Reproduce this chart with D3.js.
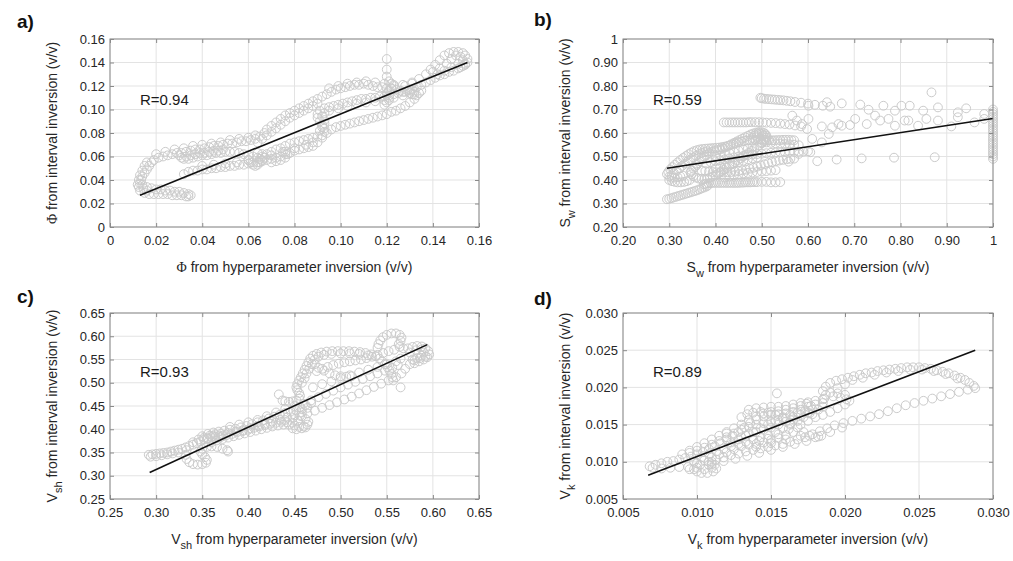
<!DOCTYPE html>
<html>
<head>
<meta charset="utf-8">
<script src="https://cdn.jsdelivr.net/npm/d3@7"></script>
<style>
  body { margin: 0; background: #fff; }
  text { font-family: "Liberation Sans", Arial, sans-serif; }
</style>
</head>
<body>
<div id="app"></div>
<script>
// ---- data: [hyperparameter inversion, interval inversion] ----

// a) porosity
const phiPoints = [
  // left hook and upper chain
  [0.0125,0.034],[0.013,0.037],[0.0135,0.040],[0.014,0.043],[0.015,0.046],[0.016,0.049],[0.017,0.052],[0.018,0.055],
  [0.019,0.057],[0.021,0.059],[0.023,0.060],[0.025,0.061],[0.027,0.062],[0.029,0.063],[0.031,0.063],[0.033,0.064],
  [0.035,0.065],[0.037,0.066],[0.039,0.066],[0.041,0.067],[0.043,0.068],[0.045,0.069],[0.047,0.069],[0.049,0.070],
  [0.051,0.071],[0.053,0.071],[0.055,0.072],[0.057,0.073],[0.059,0.073],[0.061,0.074],[0.063,0.075],[0.065,0.077],
  [0.067,0.080],[0.068,0.083],[0.070,0.086],[0.072,0.089],[0.074,0.092],[0.076,0.095],[0.078,0.097],[0.080,0.099],
  [0.082,0.101],[0.084,0.103],[0.086,0.105],[0.088,0.107],[0.090,0.109],[0.092,0.111],[0.094,0.113],[0.096,0.115],
  [0.098,0.117],[0.100,0.118],[0.102,0.119],[0.104,0.120],[0.106,0.121],[0.108,0.121],[0.110,0.122],[0.112,0.121],
  [0.114,0.120],[0.116,0.119],[0.118,0.119],[0.120,0.118],[0.122,0.118],[0.124,0.117],[0.126,0.116],[0.128,0.115],
  [0.130,0.114],[0.132,0.113],[0.134,0.114],[0.135,0.116],
  [0.020,0.062],[0.024,0.064],[0.028,0.066],[0.032,0.067],[0.036,0.069],[0.040,0.070],[0.044,0.071],[0.048,0.072],
  [0.052,0.074],[0.056,0.075],[0.060,0.076],[0.063,0.078],
  [0.012,0.036],[0.0125,0.040],[0.013,0.044],[0.014,0.048],[0.015,0.052],[0.016,0.055],[0.0145,0.033],[0.016,0.031],
  // bottom sausage
  [0.013,0.031],[0.015,0.029],[0.017,0.028],[0.019,0.028],[0.021,0.028],[0.023,0.028],[0.025,0.028],[0.027,0.027],
  [0.029,0.027],[0.031,0.027],[0.033,0.026],[0.034,0.026],[0.035,0.027],[0.034,0.028],[0.032,0.029],[0.030,0.030],
  [0.028,0.030],[0.026,0.031],[0.024,0.031],[0.022,0.032],[0.020,0.032],[0.018,0.033],[0.016,0.034],[0.014,0.036],
  // middle chain
  [0.031,0.059],[0.032,0.058],[0.034,0.058],[0.036,0.059],[0.038,0.060],[0.040,0.061],[0.042,0.061],[0.044,0.062],
  [0.046,0.063],[0.048,0.063],[0.050,0.064],[0.052,0.064],[0.054,0.064],[0.056,0.063],[0.058,0.062],[0.060,0.061],
  [0.062,0.060],[0.064,0.059],[0.066,0.060],[0.068,0.062],[0.070,0.064],[0.072,0.066],[0.074,0.067],[0.076,0.069],
  [0.078,0.071],[0.080,0.072],[0.082,0.073],[0.084,0.074],[0.086,0.075],[0.088,0.076],[0.090,0.077],[0.092,0.078],
  [0.093,0.081],[0.093,0.084],[0.092,0.087],[0.091,0.090],[0.090,0.093],[0.090,0.096],[0.091,0.099],[0.093,0.101],
  [0.095,0.102],[0.097,0.103],[0.099,0.104],[0.101,0.105],[0.103,0.106],[0.105,0.107],[0.107,0.108],[0.109,0.109],
  [0.111,0.109],[0.113,0.110],[0.115,0.110],[0.117,0.111],[0.119,0.111],[0.121,0.112],[0.123,0.113],[0.125,0.114],
  [0.127,0.115],[0.129,0.116],[0.131,0.117],[0.133,0.119],[0.135,0.121],[0.137,0.123],[0.139,0.125],[0.141,0.127],
  [0.143,0.129],[0.145,0.130],[0.147,0.132],[0.149,0.133],[0.151,0.135],[0.153,0.137],[0.154,0.139],
  [0.030,0.061],[0.033,0.060],[0.035,0.061],[0.037,0.062],[0.039,0.063],[0.041,0.063],[0.043,0.064],[0.045,0.065],
  [0.047,0.065],[0.049,0.066],
  [0.064,0.072],[0.066,0.075],[0.068,0.078],[0.070,0.081],[0.072,0.084],[0.074,0.087],[0.076,0.090],[0.078,0.093],
  [0.080,0.095],[0.082,0.097],[0.084,0.099],[0.086,0.101],[0.088,0.103],[0.090,0.105],
  [0.091,0.082],[0.092,0.085],[0.093,0.088],[0.093,0.091],[0.092,0.094],[0.093,0.097],
  // lower chain
  [0.032,0.045],[0.034,0.047],[0.036,0.048],[0.038,0.048],[0.040,0.049],[0.042,0.049],[0.044,0.050],[0.046,0.050],
  [0.048,0.051],[0.050,0.051],[0.052,0.052],[0.054,0.052],[0.056,0.053],[0.058,0.053],[0.060,0.054],[0.062,0.055],
  [0.064,0.055],[0.066,0.056],[0.068,0.057],[0.070,0.058],[0.072,0.059],[0.074,0.060],[0.076,0.062],[0.078,0.063],
  [0.080,0.065],[0.082,0.066],[0.084,0.067],[0.086,0.068],[0.088,0.069],[0.090,0.072],[0.092,0.076],[0.094,0.080],
  [0.096,0.083],[0.098,0.085],[0.100,0.086],[0.102,0.087],[0.104,0.088],[0.106,0.089],[0.108,0.090],[0.110,0.091],
  [0.112,0.092],[0.114,0.093],[0.116,0.094],[0.118,0.095],[0.120,0.096],[0.122,0.098],[0.124,0.099],[0.126,0.101],
  [0.128,0.103],[0.130,0.106],[0.132,0.109],[0.133,0.112],[0.132,0.115],[0.130,0.117],
  [0.040,0.052],[0.045,0.053],[0.050,0.054],[0.055,0.055],[0.060,0.057],[0.065,0.058],[0.070,0.061],[0.075,0.064],
  [0.080,0.067],[0.085,0.070],[0.088,0.072],
  [0.095,0.099],[0.099,0.101],[0.103,0.103],[0.107,0.105],[0.111,0.106],[0.115,0.107],[0.119,0.108],[0.123,0.110],
  [0.127,0.112],[0.131,0.113],
  [0.095,0.118],[0.099,0.120],[0.103,0.122],[0.107,0.123],[0.111,0.124],[0.115,0.123],[0.119,0.122],[0.123,0.121],
  [0.127,0.121],[0.131,0.122],
  // small clusters
  [0.119,0.104],[0.120,0.106],[0.121,0.108],[0.121,0.110],[0.120,0.112],[0.120,0.114],[0.121,0.116],[0.122,0.118],
  [0.123,0.120],[0.122,0.122],[0.121,0.124],[0.120,0.128],[0.120,0.134],[0.120,0.143],
  [0.060,0.057],[0.061,0.055],[0.062,0.053],[0.063,0.052],[0.064,0.053],[0.065,0.055],[0.066,0.057],[0.067,0.059],
  [0.066,0.062],[0.064,0.063],[0.070,0.055],[0.072,0.056],[0.074,0.057],[0.076,0.059],[0.077,0.062],[0.076,0.064],
  // top right loop
  [0.128,0.120],[0.131,0.123],[0.134,0.126],[0.137,0.130],[0.139,0.134],[0.141,0.138],[0.143,0.142],[0.145,0.146],
  [0.147,0.148],[0.149,0.149],[0.151,0.149],[0.153,0.148],[0.154,0.146],[0.155,0.143],[0.155,0.140],[0.154,0.138],
  [0.152,0.136],
  [0.140,0.132],[0.143,0.135],[0.146,0.139],[0.148,0.143],[0.150,0.146],[0.152,0.145],[0.153,0.142],[0.151,0.139],
  [0.148,0.136],[0.145,0.133],[0.142,0.130]
];
const phiFit = [[0.013, 0.027], [0.155, 0.140]];
const phiTicks = [0, 0.02, 0.04, 0.06, 0.08, 0.10, 0.12, 0.14, 0.16];
const phiTickLabels = ["0", "0.02", "0.04", "0.06", "0.08", "0.10", "0.12", "0.14", "0.16"];

// b) water saturation
const swPoints = [
  // bottom-left sausage
  [0.295,0.318],[0.300,0.320],[0.305,0.323],[0.310,0.326],[0.315,0.329],[0.320,0.332],[0.325,0.335],[0.330,0.338],
  [0.335,0.341],[0.340,0.344],[0.345,0.347],[0.350,0.350],[0.355,0.353],[0.360,0.356],[0.365,0.360],[0.370,0.364],
  [0.375,0.368],[0.380,0.372],[0.383,0.376],
  // lower band
  [0.375,0.382],[0.380,0.384],[0.385,0.386],[0.390,0.387],[0.395,0.388],[0.400,0.388],[0.405,0.388],[0.410,0.388],
  [0.415,0.388],[0.420,0.388],[0.425,0.388],[0.430,0.388],[0.435,0.388],[0.440,0.388],[0.445,0.388],[0.450,0.388],
  [0.455,0.389],[0.460,0.389],[0.465,0.390],[0.470,0.390],[0.475,0.390],[0.480,0.391],[0.485,0.391],[0.490,0.391],
  [0.500,0.392],[0.510,0.392],[0.520,0.390],[0.530,0.390],[0.540,0.391],
  // S loop
  [0.295,0.425],[0.298,0.435],[0.302,0.445],[0.307,0.455],[0.312,0.465],[0.318,0.475],[0.324,0.485],[0.330,0.494],
  [0.336,0.502],[0.342,0.510],[0.348,0.517],[0.354,0.523],[0.360,0.527],[0.366,0.530],[0.372,0.532],[0.378,0.533],
  [0.384,0.534],[0.390,0.535],[0.396,0.536],[0.402,0.537],[0.408,0.538],[0.414,0.540],[0.420,0.542],[0.426,0.545],
  [0.432,0.548],[0.438,0.552],[0.444,0.556],[0.450,0.560],[0.456,0.563],[0.462,0.566],[0.468,0.568],[0.474,0.569],
  [0.480,0.570],[0.486,0.571],[0.492,0.572],[0.498,0.572],[0.504,0.571],[0.510,0.570],[0.516,0.569],[0.522,0.569],
  [0.528,0.569],[0.534,0.570],[0.540,0.570],[0.546,0.571],[0.552,0.571],[0.558,0.571],[0.564,0.570],[0.570,0.569],
  [0.300,0.415],[0.306,0.410],[0.312,0.410],[0.318,0.412],[0.324,0.415],[0.330,0.418],
  [0.305,0.420],[0.310,0.430],[0.316,0.440],[0.322,0.450],[0.328,0.460],[0.334,0.470],[0.340,0.480],[0.346,0.488],
  [0.352,0.496],[0.358,0.503],[0.364,0.510],[0.370,0.515],[0.376,0.519],[0.382,0.522],
  [0.300,0.400],[0.306,0.395],[0.312,0.392],[0.318,0.390],[0.325,0.390],[0.332,0.392],[0.338,0.395],[0.344,0.400],
  // dark loop
  [0.360,0.470],[0.365,0.480],[0.370,0.490],[0.375,0.500],[0.380,0.508],[0.386,0.515],[0.392,0.520],[0.398,0.524],
  [0.404,0.527],[0.410,0.530],[0.416,0.534],[0.422,0.540],[0.428,0.546],[0.434,0.552],[0.440,0.558],[0.446,0.564],
  [0.452,0.570],[0.458,0.576],[0.464,0.582],[0.470,0.588],[0.476,0.594],[0.482,0.598],[0.488,0.602],[0.494,0.604],
  [0.500,0.603],[0.505,0.600],[0.508,0.595],[0.510,0.588],[0.510,0.580],[0.508,0.572],[0.505,0.564],[0.500,0.556],
  [0.495,0.548],[0.490,0.540],[0.484,0.532],[0.478,0.524],[0.472,0.516],[0.466,0.508],[0.460,0.500],[0.454,0.492],
  [0.448,0.484],[0.442,0.476],[0.436,0.468],[0.430,0.460],[0.424,0.452],[0.418,0.444],[0.412,0.436],[0.406,0.428],
  [0.400,0.421],[0.394,0.415],[0.388,0.410],[0.382,0.406],[0.376,0.404],[0.370,0.404],[0.364,0.406],[0.358,0.410],
  [0.352,0.416],[0.348,0.424],[0.346,0.432],[0.348,0.440],[0.352,0.448],[0.356,0.456],[0.360,0.464],
  [0.485,0.590],[0.490,0.595],[0.495,0.598],[0.500,0.596],[0.503,0.590],[0.480,0.580],[0.490,0.582],[0.500,0.585],
  // middle bands
  [0.380,0.470],[0.390,0.475],[0.400,0.480],[0.410,0.484],[0.420,0.488],[0.430,0.492],[0.440,0.496],[0.450,0.500],
  [0.460,0.503],[0.470,0.506],[0.480,0.508],[0.490,0.510],[0.500,0.512],[0.510,0.514],[0.520,0.516],[0.530,0.517],
  [0.540,0.518],[0.550,0.519],[0.560,0.520],[0.570,0.520],[0.580,0.521],[0.590,0.521],[0.600,0.522],
  [0.370,0.440],[0.378,0.438],[0.386,0.436],[0.394,0.434],[0.402,0.433],[0.410,0.432],[0.418,0.432],[0.426,0.433],
  [0.434,0.434],[0.442,0.436],[0.450,0.438],[0.458,0.441],[0.466,0.444],[0.474,0.448],[0.482,0.452],[0.490,0.457],
  [0.498,0.462],[0.506,0.467],[0.514,0.472],[0.522,0.476],[0.530,0.480],[0.538,0.483],[0.546,0.486],[0.554,0.488],
  [0.562,0.490],[0.570,0.491],
  [0.400,0.450],[0.410,0.455],[0.420,0.460],[0.430,0.465],[0.440,0.470],[0.450,0.476],[0.460,0.482],[0.470,0.488],
  [0.480,0.492],[0.490,0.496],[0.400,0.500],[0.410,0.505],[0.420,0.510],[0.430,0.515],[0.440,0.520],[0.450,0.525],
  [0.460,0.530],[0.470,0.535],[0.480,0.540],[0.420,0.410],[0.430,0.415],[0.440,0.420],[0.450,0.425],[0.460,0.428],
  [0.470,0.430],[0.480,0.432],[0.490,0.434],[0.500,0.436],[0.510,0.438],[0.520,0.440],[0.530,0.442],
  [0.500,0.560],[0.510,0.560],[0.520,0.558],[0.530,0.556],[0.540,0.555],[0.550,0.553],[0.560,0.552],[0.570,0.550],
  [0.580,0.548],
  // band near 0.65
  [0.418,0.645],[0.424,0.645],[0.430,0.645],[0.436,0.645],[0.442,0.645],[0.448,0.645],[0.454,0.645],[0.460,0.645],
  [0.466,0.645],[0.472,0.646],[0.478,0.646],[0.486,0.646],[0.494,0.646],[0.502,0.645],[0.510,0.644],[0.520,0.643],
  [0.530,0.642],[0.540,0.640],[0.550,0.638],[0.560,0.636],[0.572,0.632],[0.585,0.628],
  // band near 0.75
  [0.497,0.750],[0.500,0.748],[0.505,0.746],[0.510,0.745],[0.516,0.744],[0.522,0.743],[0.528,0.742],[0.534,0.741],
  [0.540,0.740],[0.547,0.739],[0.554,0.737],[0.562,0.735],[0.572,0.732],[0.585,0.729],[0.600,0.725],[0.615,0.720],
  [0.632,0.716],[0.648,0.712],
  // scattered points
  [0.601,0.716],[0.641,0.731],[0.673,0.726],[0.713,0.721],[0.731,0.699],[0.763,0.716],[0.788,0.695],[0.802,0.716],
  [0.820,0.716],[0.849,0.695],[0.867,0.773],[0.881,0.709],[0.924,0.688],[0.942,0.705],[0.981,0.681],
  [0.601,0.660],[0.630,0.628],[0.652,0.624],[0.666,0.638],[0.691,0.634],[0.702,0.660],[0.727,0.638],[0.745,0.674],
  [0.756,0.653],[0.774,0.660],[0.788,0.631],[0.809,0.653],[0.817,0.653],[0.838,0.631],[0.856,0.660],[0.881,0.653],
  [0.910,0.628],[0.924,0.667],[0.960,0.645],[0.981,0.660],
  [0.587,0.638],[0.576,0.653],[0.598,0.617],[0.609,0.575],[0.645,0.596],[0.630,0.560],[0.673,0.631],[0.566,0.674],
  [0.605,0.518],[0.662,0.487],[0.716,0.492],[0.786,0.495],[0.874,0.497],[0.580,0.511],[0.558,0.478],[0.620,0.480],
  // column at 1
  [1,0.490],[1,0.500],[1,0.510],[1,0.520],[1,0.530],[1,0.540],[1,0.550],[1,0.560],[1,0.570],[1,0.580],
  [1,0.590],[1,0.600],[1,0.610],[1,0.620],[1,0.630],[1,0.640],[1,0.650],[1,0.660],[1,0.670],[1,0.680],
  [1,0.690],[1,0.700]
];
const swFit = [[0.295, 0.450], [1.0, 0.662]];
const swTicks = [0.2, 0.3, 0.4, 0.5, 0.6, 0.7, 0.8, 0.9, 1];
const swTickLabels = ["0.20", "0.30", "0.40", "0.50", "0.60", "0.70", "0.80", "0.90", "1"];

// c) shale volume
const vshPoints = [
  // left tail
  [0.292,0.345],[0.296,0.346],[0.300,0.347],[0.304,0.348],[0.308,0.349],[0.312,0.350],[0.316,0.352],[0.320,0.354],
  [0.324,0.356],[0.328,0.358],[0.332,0.361],[0.336,0.364],[0.340,0.367],[0.344,0.370],[0.348,0.374],[0.352,0.378],
  [0.356,0.381],[0.360,0.383],[0.364,0.384],[0.368,0.385],[0.372,0.386],
  [0.294,0.341],[0.300,0.342],[0.306,0.344],[0.312,0.346],[0.318,0.348],[0.324,0.350],
  // small loop
  [0.333,0.355],[0.332,0.345],[0.333,0.336],[0.336,0.329],[0.340,0.325],[0.345,0.324],[0.350,0.325],[0.354,0.328],
  [0.355,0.334],[0.353,0.340],[0.350,0.346],[0.348,0.352],[0.350,0.358],[0.355,0.362],[0.360,0.363],[0.366,0.362],
  [0.372,0.358],[0.377,0.355],[0.378,0.352],
  // lower middle bands
  [0.350,0.385],[0.356,0.390],[0.362,0.393],[0.368,0.395],[0.374,0.397],[0.380,0.399],[0.386,0.401],[0.392,0.404],
  [0.398,0.407],[0.404,0.411],[0.410,0.415],[0.416,0.419],[0.422,0.423],[0.428,0.427],[0.434,0.431],[0.440,0.435],
  [0.446,0.438],[0.452,0.441],[0.458,0.443],[0.464,0.446],
  [0.360,0.372],[0.366,0.376],[0.372,0.379],[0.378,0.382],[0.384,0.385],[0.390,0.388],[0.396,0.391],[0.402,0.394],
  [0.408,0.397],[0.414,0.400],[0.420,0.403],[0.426,0.406],[0.432,0.408],[0.438,0.410],[0.444,0.410],[0.450,0.408],
  [0.455,0.405],[0.460,0.406],[0.464,0.410],[0.465,0.416],[0.462,0.422],[0.458,0.428],
  [0.355,0.380],[0.362,0.386],[0.370,0.390],[0.378,0.392],[0.386,0.395],[0.394,0.398],[0.402,0.402],[0.410,0.407],
  [0.418,0.412],[0.426,0.416],[0.434,0.420],[0.442,0.425],[0.450,0.430],
  [0.380,0.405],[0.390,0.410],[0.400,0.415],[0.410,0.420],[0.420,0.428],[0.430,0.436],[0.440,0.444],[0.450,0.450],
  [0.448,0.402],[0.452,0.400],[0.458,0.402],[0.462,0.404],
  [0.340,0.372],[0.346,0.378],[0.352,0.382],[0.358,0.386],[0.364,0.389],[0.370,0.383],[0.376,0.387],[0.382,0.390],
  [0.388,0.394],[0.394,0.396],[0.400,0.399],[0.406,0.403],[0.412,0.406],[0.418,0.409],[0.424,0.412],[0.430,0.414],
  [0.436,0.416],[0.442,0.415],[0.448,0.414],[0.454,0.418],[0.458,0.436],[0.456,0.448],[0.462,0.452],[0.468,0.456],
  // thin lower-right band
  [0.440,0.420],[0.448,0.424],[0.456,0.429],[0.464,0.434],[0.472,0.440],[0.480,0.446],[0.488,0.452],[0.496,0.458],
  [0.504,0.464],[0.512,0.470],[0.520,0.477],[0.528,0.484],[0.536,0.491],[0.544,0.498],[0.552,0.505],[0.560,0.512],
  [0.566,0.520],[0.570,0.530],[0.575,0.540],[0.580,0.548],[0.586,0.553],[0.592,0.556],
  // middle band
  [0.460,0.455],[0.468,0.462],[0.476,0.469],[0.484,0.476],[0.492,0.483],[0.500,0.490],[0.508,0.496],[0.516,0.502],
  [0.524,0.508],[0.532,0.514],[0.540,0.520],[0.548,0.526],[0.556,0.532],[0.562,0.538],
  [0.470,0.490],[0.480,0.497],[0.490,0.503],[0.500,0.510],[0.510,0.516],[0.520,0.522],[0.530,0.528],[0.540,0.534],
  [0.550,0.540],[0.560,0.546],[0.565,0.552],
  // upper arch
  [0.433,0.475],[0.437,0.462],[0.440,0.460],[0.444,0.459],[0.448,0.460],[0.452,0.462],[0.455,0.466],[0.456,0.472],
  [0.455,0.478],[0.453,0.484],[0.452,0.490],[0.453,0.497],[0.455,0.505],[0.457,0.512],[0.459,0.520],[0.461,0.528],
  [0.463,0.536],[0.465,0.544],[0.467,0.552],[0.470,0.558],[0.474,0.562],[0.479,0.565],[0.485,0.567],[0.491,0.568],
  [0.497,0.568],[0.503,0.568],[0.509,0.568],[0.515,0.567],[0.521,0.566],[0.527,0.564],[0.533,0.561],[0.538,0.557],
  [0.542,0.552],[0.545,0.546],[0.548,0.540],[0.551,0.533],[0.553,0.526],[0.555,0.519],[0.556,0.512],[0.557,0.505],
  [0.458,0.500],[0.461,0.510],[0.463,0.520],[0.466,0.530],[0.469,0.540],[0.472,0.550],[0.476,0.556],[0.482,0.560],
  [0.490,0.562],[0.500,0.563],[0.510,0.563],[0.520,0.562],[0.530,0.559],
  // top right loop
  [0.540,0.575],[0.541,0.583],[0.543,0.591],[0.546,0.598],[0.550,0.603],[0.555,0.606],[0.560,0.606],[0.564,0.603],
  [0.566,0.597],[0.565,0.590],[0.563,0.583],[0.564,0.577],[0.568,0.574],[0.573,0.574],[0.578,0.577],[0.583,0.579],
  [0.588,0.578],[0.592,0.574],[0.595,0.568],[0.596,0.561],[0.594,0.555],[0.590,0.550],[0.585,0.546],[0.580,0.542],
  [0.575,0.565],[0.582,0.570],[0.588,0.572],[0.590,0.565],[0.588,0.558],[0.583,0.553],[0.578,0.550],
  // second upper track
  [0.474,0.525],[0.480,0.530],[0.486,0.534],[0.492,0.538],[0.498,0.541],[0.504,0.544],[0.510,0.546],[0.516,0.548],
  [0.522,0.550],[0.528,0.553],[0.534,0.556],[0.540,0.560],[0.546,0.564],[0.552,0.568],[0.558,0.571],
  [0.472,0.540],[0.476,0.532],[0.482,0.526],[0.488,0.520],[0.494,0.516],[0.500,0.514],[0.506,0.513],[0.512,0.514],
  [0.565,0.490]
];
const vshFit = [[0.293, 0.307], [0.594, 0.582]];
const vshTicks = [0.25, 0.30, 0.35, 0.40, 0.45, 0.50, 0.55, 0.60, 0.65];
const vshTickLabels = ["0.25", "0.30", "0.35", "0.40", "0.45", "0.50", "0.55", "0.60", "0.65"];

// d) kerogen volume
const vkPoints = [
  // left tail and main band
  [0.0068,0.0094],[0.0072,0.0096],[0.0076,0.0098],[0.0080,0.0100],[0.0084,0.0101],[0.0088,0.0103],[0.0092,0.0105],
  [0.0096,0.0107],[0.0100,0.0110],[0.0104,0.0113],[0.0108,0.0117],[0.0112,0.0121],[0.0116,0.0125],[0.0120,0.0130],
  [0.0124,0.0135],[0.0128,0.0140],[0.0132,0.0146],[0.0136,0.0152],[0.0140,0.0157],[0.0145,0.0161],[0.0150,0.0163],
  [0.0155,0.0164],[0.0160,0.0165],[0.0165,0.0167],[0.0170,0.0170],[0.0175,0.0174],[0.0180,0.0177],[0.0185,0.0179],
  [0.0070,0.0092],[0.0076,0.0091],[0.0082,0.0092],[0.0088,0.0093],[0.0094,0.0093],[0.0098,0.0090],[0.0100,0.0087],
  [0.0103,0.0085],[0.0107,0.0085],[0.0111,0.0087],[0.0113,0.0091],[0.0112,0.0096],[0.0110,0.0100],
  [0.0095,0.0090],[0.0100,0.0092],[0.0105,0.0090],[0.0110,0.0092],[0.0108,0.0096],[0.0102,0.0096],
  [0.0090,0.0110],[0.0095,0.0112],[0.0100,0.0115],[0.0105,0.0119],[0.0110,0.0123],[0.0115,0.0128],[0.0120,0.0133],
  [0.0125,0.0138],[0.0130,0.0143],[0.0135,0.0147],[0.0140,0.0150],[0.0145,0.0152],[0.0150,0.0154],[0.0155,0.0156],
  [0.0160,0.0158],[0.0165,0.0160],[0.0170,0.0163],[0.0175,0.0166],
  // lower thin track
  [0.0108,0.0100],[0.0113,0.0103],[0.0118,0.0106],[0.0123,0.0109],[0.0128,0.0111],[0.0133,0.0114],[0.0138,0.0116],
  [0.0143,0.0118],[0.0148,0.0120],[0.0153,0.0122],[0.0158,0.0124],[0.0163,0.0127],[0.0168,0.0130],[0.0173,0.0133],
  [0.0178,0.0137],[0.0183,0.0141],[0.0188,0.0145],[0.0193,0.0149],[0.0199,0.0152],[0.0205,0.0155],[0.0211,0.0158],
  [0.0217,0.0161],[0.0223,0.0164],[0.0229,0.0168],[0.0235,0.0172],[0.0241,0.0176],[0.0247,0.0179],[0.0253,0.0182],
  [0.0259,0.0185],[0.0265,0.0188],[0.0271,0.0191],[0.0277,0.0194],[0.0283,0.0197],
  [0.0110,0.0097],[0.0118,0.0101],[0.0126,0.0104],[0.0134,0.0108],[0.0142,0.0112],[0.0150,0.0116],[0.0158,0.0120],
  [0.0166,0.0124],[0.0174,0.0128],[0.0182,0.0134],[0.0190,0.0140],[0.0198,0.0146],
  // dense centre
  [0.0120,0.0140],[0.0125,0.0145],[0.0130,0.0150],[0.0135,0.0156],[0.0140,0.0161],[0.0145,0.0165],[0.0150,0.0167],
  [0.0155,0.0168],[0.0160,0.0170],[0.0165,0.0172],[0.0170,0.0175],[0.0174,0.0178],[0.0177,0.0175],[0.0178,0.0170],
  [0.0176,0.0165],[0.0172,0.0160],[0.0168,0.0155],[0.0163,0.0150],[0.0158,0.0145],[0.0153,0.0140],[0.0148,0.0136],
  [0.0143,0.0133],[0.0138,0.0130],[0.0133,0.0127],[0.0128,0.0124],[0.0123,0.0121],
  [0.0130,0.0160],[0.0134,0.0164],[0.0138,0.0166],[0.0143,0.0167],[0.0148,0.0166],[0.0153,0.0163],[0.0158,0.0158],
  [0.0163,0.0152],[0.0168,0.0146],[0.0172,0.0140],[0.0176,0.0135],[0.0180,0.0133],[0.0184,0.0135],
  [0.0180,0.0160],[0.0185,0.0163],[0.0190,0.0167],[0.0195,0.0172],[0.0200,0.0177],[0.0203,0.0182],
  [0.0095,0.0115],[0.0100,0.0120],[0.0105,0.0125],[0.0110,0.0130],[0.0115,0.0135],[0.0120,0.0138],
  [0.0100,0.0098],[0.0105,0.0102],[0.0110,0.0106],[0.0115,0.0110],[0.0120,0.0113],[0.0125,0.0117],[0.0130,0.0121],
  [0.0135,0.0123],[0.0140,0.0124],[0.0145,0.0126],[0.0150,0.0129],[0.0155,0.0132],[0.0160,0.0136],[0.0165,0.0140],
  [0.0135,0.0170],[0.0140,0.0172],[0.0145,0.0173],[0.0150,0.0174],[0.0155,0.0174],[0.0160,0.0175],[0.0165,0.0177],
  [0.0170,0.0179],[0.0175,0.0180],[0.0180,0.0182],[0.0185,0.0184],
  [0.0140,0.0140],[0.0145,0.0143],[0.0150,0.0146],[0.0155,0.0150],[0.0160,0.0154],[0.0165,0.0157],
  [0.0140,0.0120],[0.0150,0.0125],[0.0160,0.0130],[0.0170,0.0135],
  [0.0098,0.0100],[0.0103,0.0106],[0.0108,0.0110],[0.0113,0.0114],[0.0118,0.0118],[0.0123,0.0126],[0.0128,0.0130],
  [0.0133,0.0135],[0.0138,0.0140],[0.0143,0.0145],[0.0148,0.0150],[0.0153,0.0155],[0.0158,0.0160],[0.0163,0.0163],
  [0.0168,0.0166],[0.0173,0.0168],[0.0178,0.0164],[0.0182,0.0170],[0.0185,0.0174],[0.0130,0.0133],[0.0135,0.0138],
  [0.0142,0.0128],[0.0148,0.0131],[0.0155,0.0137],[0.0162,0.0144],[0.0170,0.0150],[0.0175,0.0155],
  // upper arc
  [0.0185,0.0195],[0.0187,0.0201],[0.0190,0.0206],[0.0194,0.0209],[0.0198,0.0211],[0.0202,0.0213],[0.0206,0.0215],
  [0.0210,0.0217],[0.0214,0.0219],[0.0218,0.0220],[0.0222,0.0222],[0.0226,0.0223],[0.0230,0.0224],[0.0234,0.0225],
  [0.0238,0.0226],[0.0242,0.0227],[0.0246,0.0227],[0.0250,0.0227],[0.0254,0.0226],[0.0258,0.0225],[0.0262,0.0223],
  [0.0266,0.0221],[0.0270,0.0219],[0.0274,0.0216],[0.0278,0.0213],[0.0281,0.0210],[0.0284,0.0206],[0.0287,0.0202],
  [0.0288,0.0199],[0.0187,0.0190],[0.0192,0.0188],[0.0197,0.0186],[0.0201,0.0184],
  [0.0186,0.0185],[0.0190,0.0193],[0.0195,0.0199],[0.0200,0.0204],[0.0195,0.0192],[0.0200,0.0190],
  [0.0205,0.0210],[0.0212,0.0213],[0.0220,0.0217],[0.0228,0.0220],[0.0236,0.0222],[0.0244,0.0224],[0.0252,0.0224],
  [0.0260,0.0222],[0.0268,0.0218],[0.0276,0.0212],
  [0.0154,0.0192]
];
const vkFit = [[0.0067, 0.0082], [0.0288, 0.0250]];
const vkTicks = [0.005, 0.010, 0.015, 0.020, 0.025, 0.030];
const vkTickLabels = ["0.005", "0.010", "0.015", "0.020", "0.025", "0.030"];

const panelLetters = ["a)", "b)", "c)", "d)"];
const rLabels = ["R=0.94", "R=0.59", "R=0.93", "R=0.89"];

// ---- drawing ----
const width = 1013;
const height = 561;

const svg = d3.select("#app").append("svg").attr("width", width).attr("height", height);

const gridColor = "#e3e3e3";
const boxColor = "#8a8a8a";
const textColor = "#262626";
const markerColor = "#cbcbcb";

const panels = [
  { letter: panelLetters[0], r: rLabels[0], points: phiPoints, fit: phiFit, ticks: phiTicks, labels: phiTickLabels,
    box: [110, 479, 39, 227], sym: "Φ", sub: null, serif: true, letterPos: [17, 28] },
  { letter: panelLetters[1], r: rLabels[1], points: swPoints, fit: swFit, ticks: swTicks, labels: swTickLabels,
    box: [623, 993, 39, 227], sym: "S", sub: "w", letterPos: [534, 26] },
  { letter: panelLetters[2], r: rLabels[2], points: vshPoints, fit: vshFit, ticks: vshTicks, labels: vshTickLabels,
    box: [110, 479, 313, 499], sym: "V", sub: "sh", letterPos: [17, 303] },
  { letter: panelLetters[3], r: rLabels[3], points: vkPoints, fit: vkFit, ticks: vkTicks, labels: vkTickLabels,
    box: [623, 993, 313, 499], sym: "V", sub: "k", letterPos: [534, 305] }
];

panels.forEach(drawPanel);

function addTitle(sel, p, rest) {
  sel.append("tspan")
    .text(p.sym)
    .style("font-family", p.serif ? "'Liberation Serif', 'DejaVu Serif', serif" : null);
  if (p.sub) {
    sel.append("tspan").attr("dy", 5).style("font-size", "11px").text(p.sub);
    sel.append("tspan").attr("dy", -5).text(" " + rest);
  } else {
    sel.append("tspan").text(" " + rest);
  }
}

function drawPanel(p) {
  const [left, right, top, bottom] = p.box;
  const ext = d3.extent(p.ticks);
  const x = d3.scaleLinear().domain(ext).range([left, right]);
  const y = d3.scaleLinear().domain(ext).range([bottom, top]);
  const g = svg.append("g");

  // GRID
  g.append("g").selectAll("line").data(p.ticks).join("line")
    .attr("x1", d => x(d)).attr("x2", d => x(d)).attr("y1", top).attr("y2", bottom)
    .attr("stroke", gridColor).attr("stroke-width", 1);
  g.append("g").selectAll("line").data(p.ticks).join("line")
    .attr("x1", left).attr("x2", right).attr("y1", d => y(d)).attr("y2", d => y(d))
    .attr("stroke", gridColor).attr("stroke-width", 1);

  // POINTS
  g.append("g").selectAll("circle").data(p.points).join("circle")
    .attr("cx", d => x(d[0])).attr("cy", d => y(d[1])).attr("r", 4.4)
    .attr("fill", "none").attr("stroke", markerColor).attr("stroke-width", 1);

  // FIT LINE
  g.append("line")
    .attr("x1", x(p.fit[0][0])).attr("y1", y(p.fit[0][1]))
    .attr("x2", x(p.fit[1][0])).attr("y2", y(p.fit[1][1]))
    .attr("stroke", "#111").attr("stroke-width", 1.6);

  // AXES
  const fmt = (d, i) => p.labels[i];
  g.append("g").attr("transform", `translate(0,${bottom})`)
    .call(d3.axisBottom(x).tickValues(p.ticks).tickFormat(fmt).tickSizeInner(-4).tickSizeOuter(0).tickPadding(9));
  g.append("g").attr("transform", `translate(${left},0)`)
    .call(d3.axisLeft(y).tickValues(p.ticks).tickFormat(fmt).tickSizeInner(-4).tickSizeOuter(0).tickPadding(5));
  g.append("g").attr("transform", `translate(0,${top})`)
    .call(d3.axisTop(x).tickValues(p.ticks).tickFormat("").tickSizeInner(-4).tickSizeOuter(0));
  g.append("g").attr("transform", `translate(${right},0)`)
    .call(d3.axisRight(y).tickValues(p.ticks).tickFormat("").tickSizeInner(-4).tickSizeOuter(0));
  g.selectAll(".domain").remove();
  g.selectAll(".tick line").attr("stroke", boxColor);
  g.selectAll(".tick text")
    .style("font-family", "'Liberation Sans', Arial, sans-serif")
    .style("font-size", "13px").attr("fill", textColor);

  g.append("rect")
    .attr("x", left).attr("y", top).attr("width", right - left).attr("height", bottom - top)
    .attr("fill", "none").attr("stroke", boxColor).attr("stroke-width", 1);

  // TITLES
  const xt = g.append("text")
    .attr("x", (left + right) / 2).attr("y", bottom + 45)
    .attr("text-anchor", "middle").style("font-size", "14px").attr("fill", textColor);
  addTitle(xt, p, "from hyperparameter inversion (v/v)");

  const yt = g.append("text")
    .attr("transform", `translate(${left - 53},${(top + bottom) / 2}) rotate(-90)`)
    .attr("text-anchor", "middle").style("font-size", "14px").attr("fill", textColor);
  addTitle(yt, p, "from interval inversion (v/v)");

  g.append("text")
    .attr("x", left + 30).attr("y", top + (bottom === 227 ? 66 : 64))
    .style("font-size", "15px").attr("fill", "#1a1a1a").text(p.r);

  svg.append("text")
    .attr("x", p.letterPos[0]).attr("y", p.letterPos[1])
    .style("font-size", "19px").style("font-weight", "bold").attr("fill", "#111").text(p.letter);
}
</script>
</body>
</html>
